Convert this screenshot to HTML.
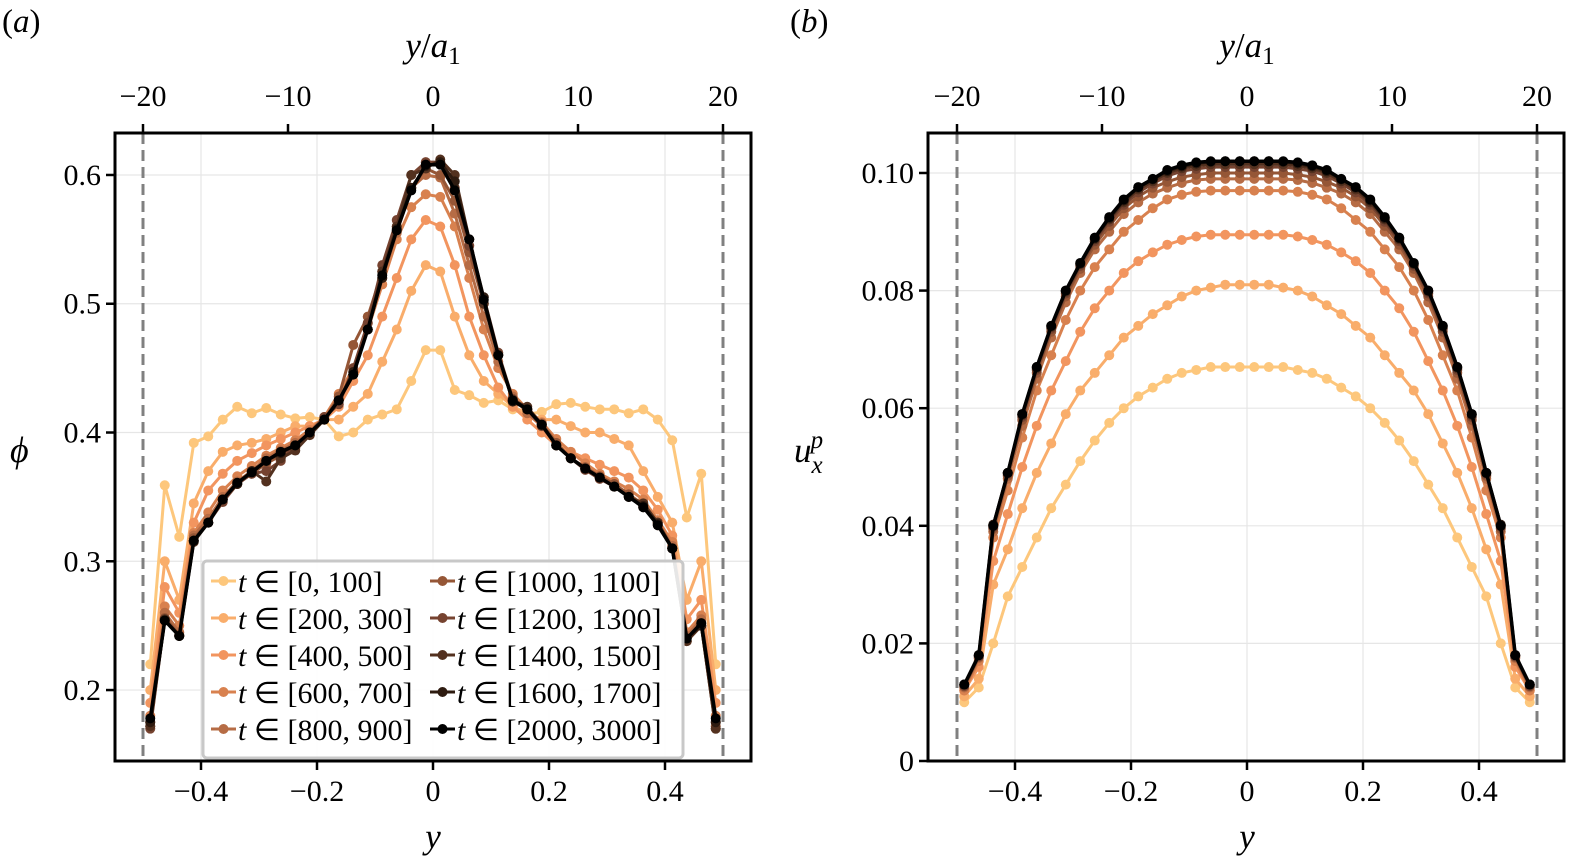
<!DOCTYPE html>
<html><head><meta charset="utf-8"><style>
body{margin:0;background:#fff}
svg{display:block;font-family:"Liberation Serif",serif}
</style></head><body>
<svg id="fig" width="1580" height="862" viewBox="0 0 1580 862"></svg>
<script>
const labels=["[0, 100]","[200, 300]","[400, 500]","[600, 700]","[800, 900]","[1000, 1100]","[1200, 1300]","[1400, 1500]","[1600, 1700]","[2000, 3000]"];
const colors=["#fdc77c","#f9ad6b","#f2955f","#d8814f","#b66c45","#955636","#764330","#53311f","#2e1b10","#000000"];
const yPos=[];for(let i=0;i<40;i++)yPos.push(-0.4875+0.025*i);
const phi0=[0.22,0.359,0.319,0.392,0.397,0.41,0.42,0.415,0.419,0.414,0.411,0.412,0.41,0.397,0.40,0.41,0.414,0.418,0.44,0.464,0.464,0.433,0.429,0.423,0.425,0.418,0.414,0.416,0.422,0.423,0.42,0.418,0.418,0.415,0.418,0.41,0.394,0.334,0.368,0.22];
const phi1=[0.20,0.30,0.27,0.345,0.37,0.385,0.39,0.392,0.395,0.40,0.405,0.405,0.41,0.41,0.42,0.43,0.455,0.48,0.51,0.53,0.525,0.49,0.46,0.44,0.43,0.42,0.415,0.41,0.41,0.405,0.40,0.40,0.395,0.39,0.37,0.35,0.33,0.27,0.30,0.20];
const phi2=[0.19,0.28,0.26,0.33,0.355,0.368,0.378,0.384,0.39,0.395,0.40,0.405,0.41,0.42,0.44,0.46,0.49,0.52,0.55,0.565,0.56,0.53,0.49,0.46,0.435,0.42,0.41,0.40,0.39,0.385,0.38,0.375,0.37,0.365,0.355,0.34,0.32,0.255,0.27,0.19];
const phi3=[0.18,0.265,0.25,0.322,0.338,0.355,0.366,0.374,0.382,0.388,0.394,0.402,0.412,0.43,0.45,0.48,0.515,0.55,0.575,0.585,0.583,0.56,0.52,0.48,0.45,0.43,0.418,0.408,0.395,0.385,0.376,0.368,0.362,0.356,0.348,0.332,0.315,0.245,0.258,0.18];
const phi4=[0.175,0.26,0.245,0.32,0.333,0.35,0.362,0.37,0.38,0.386,0.392,0.4,0.41,0.425,0.447,0.485,0.52,0.555,0.59,0.6,0.598,0.57,0.53,0.49,0.455,0.428,0.415,0.405,0.39,0.38,0.372,0.365,0.358,0.352,0.344,0.33,0.312,0.242,0.255,0.175];
const phi5=[0.172,0.256,0.243,0.318,0.33,0.348,0.36,0.368,0.376,0.382,0.388,0.398,0.41,0.428,0.468,0.49,0.525,0.56,0.59,0.605,0.6,0.58,0.54,0.5,0.46,0.425,0.418,0.407,0.392,0.38,0.373,0.366,0.36,0.352,0.343,0.328,0.31,0.238,0.25,0.172];
const phi6=[0.17,0.255,0.242,0.316,0.33,0.346,0.36,0.368,0.37,0.378,0.39,0.4,0.412,0.422,0.45,0.485,0.53,0.565,0.6,0.61,0.61,0.59,0.545,0.505,0.462,0.426,0.418,0.405,0.39,0.38,0.371,0.364,0.358,0.35,0.342,0.33,0.31,0.238,0.25,0.17];
const phi7=[0.172,0.255,0.242,0.315,0.33,0.348,0.36,0.37,0.362,0.38,0.386,0.398,0.41,0.425,0.445,0.48,0.525,0.56,0.6,0.605,0.612,0.6,0.55,0.5,0.46,0.425,0.42,0.406,0.39,0.38,0.372,0.365,0.358,0.35,0.345,0.33,0.31,0.238,0.25,0.17];
const phi8=[0.175,0.254,0.242,0.316,0.33,0.348,0.36,0.37,0.378,0.384,0.39,0.4,0.41,0.425,0.447,0.48,0.52,0.558,0.59,0.607,0.61,0.595,0.55,0.505,0.46,0.424,0.418,0.406,0.39,0.38,0.372,0.365,0.358,0.35,0.343,0.329,0.31,0.24,0.25,0.175];
const phi9=[0.178,0.254,0.242,0.316,0.330,0.348,0.361,0.369,0.378,0.385,0.390,0.400,0.41,0.425,0.445,0.48,0.522,0.557,0.588,0.608,0.608,0.588,0.55,0.503,0.46,0.425,0.418,0.406,0.39,0.38,0.372,0.365,0.358,0.35,0.342,0.328,0.31,0.24,0.252,0.178];
const ux0h=[0.010,0.0125,0.020,0.028,0.033,0.038,0.043,0.047,0.051,0.0545,0.0575,0.060,0.062,0.0635,0.065,0.066,0.0665,0.067,0.067,0.067];
const ux1h=[0.011,0.014,0.030,0.036,0.043,0.049,0.054,0.059,0.063,0.066,0.069,0.072,0.074,0.076,0.0775,0.079,0.080,0.0805,0.081,0.081];
const ux2h=[0.012,0.016,0.034,0.042,0.050,0.057,0.063,0.068,0.073,0.077,0.080,0.083,0.085,0.0865,0.0878,0.0886,0.0892,0.0895,0.0895,0.0895];
const ux3h=[0.012,0.017,0.038,0.046,0.055,0.063,0.069,0.075,0.080,0.084,0.087,0.090,0.092,0.094,0.0955,0.0963,0.0968,0.097,0.097,0.097];
const ux4h=[0.0125,0.0175,0.039,0.048,0.057,0.065,0.072,0.078,0.083,0.087,0.090,0.093,0.095,0.0965,0.0975,0.0983,0.0988,0.099,0.099,0.099];
const ux5h=[0.0127,0.0177,0.0395,0.0485,0.058,0.066,0.073,0.079,0.0837,0.0878,0.091,0.094,0.096,0.0975,0.0985,0.0993,0.0997,0.1,0.1,0.1];
const ux6h=[0.0128,0.0178,0.0398,0.0488,0.0585,0.0665,0.0735,0.0795,0.0842,0.0884,0.0917,0.0946,0.0967,0.0982,0.0995,0.1003,0.1007,0.101,0.101,0.101];
const ux7h=[0.013,0.018,0.04,0.049,0.0588,0.0668,0.0738,0.0798,0.0845,0.0887,0.0921,0.095,0.0972,0.0986,0.1,0.1008,0.1012,0.1015,0.1015,0.1015];
const ux8h=[0.013,0.018,0.0402,0.049,0.059,0.067,0.074,0.080,0.0846,0.0889,0.0923,0.0953,0.0975,0.0989,0.1003,0.1011,0.1016,0.1019,0.102,0.102];
const ux9h=[0.013,0.018,0.040,0.049,0.059,0.067,0.074,0.080,0.0847,0.089,0.0925,0.0955,0.0976,0.099,0.1005,0.1013,0.1018,0.102,0.102,0.102];
const xTicks=[-0.4,-0.2,0,0.2,0.4];
const xTickLabels=["\u22120.4","\u22120.2","0","0.2","0.4"];
const topTicks=[-20,-10,0,10,20];
const topTickLabels=["\u221220","\u221210","0","10","20"];
const phiTicks=[0.2,0.3,0.4,0.5,0.6];
const phiTickLabels=["0.2","0.3","0.4","0.5","0.6"];
const uTicks=[0,0.02,0.04,0.06,0.08,0.10];
const uTickLabels=["0","0.02","0.04","0.06","0.08","0.10"];

const phiSeries=[phi0,phi1,phi2,phi3,phi4,phi5,phi6,phi7,phi8,phi9];
const uxSeries=[ux0h,ux1h,ux2h,ux3h,ux4h,ux5h,ux6h,ux7h,ux8h,ux9h].map(h=>h.concat(h.slice().reverse()));

const NS="http://www.w3.org/2000/svg";
const svg=document.getElementById('fig');
function mk(tag,attrs,parent){const e=document.createElementNS(NS,tag);for(const k in attrs)e.setAttribute(k,attrs[k]);(parent||svg).appendChild(e);return e;}

function panel(cfg){
  const g=mk('g',{});
  
  
  const L=cfg.left,R=cfg.right,T=133,B=761;
  const xs=v=>cfg.cx+580*v;
  const ys=v=>B-(v-cfg.ymin)/(cfg.ymax-cfg.ymin)*(B-T);
  xTicks.forEach(t=>{const l=mk('line',{x1:xs(t),x2:xs(t),y1:T,y2:B,stroke:'#e6e6e6','stroke-width':1.2},g);});
  cfg.yt.forEach(t=>{const l=mk('line',{x1:L,x2:R,y1:ys(t),y2:ys(t),stroke:'#e6e6e6','stroke-width':1.2},g);});
  [-0.5,0.5].forEach(w=>{const l=mk('line',{x1:xs(w),x2:xs(w),y1:T,y2:B,stroke:'#808080','stroke-width':3,'stroke-dasharray':'11,6'},g);});
  cfg.series.forEach((s,k)=>{
    const sg=mk('g',{},g);
    
    
    const pts=s.map((v,i)=>xs(yPos[i]).toFixed(1)+','+ys(v).toFixed(1)).join(' ');
    const pl=mk('polyline',{points:pts,fill:'none',stroke:colors[k],'stroke-width':k==9?3.5:3},sg);
    
    
    s.forEach((v,i)=>{const c=mk('circle',{cx:xs(yPos[i]),cy:ys(v),r:5,fill:colors[k]},sg);
      
      });
  });
  const fr=mk('rect',{x:L,y:T,width:R-L,height:B-T,fill:'none',stroke:'#000','stroke-width':3},g);
  
  xTicks.forEach((t,i)=>{mk('line',{x1:xs(t),x2:xs(t),y1:B,y2:B+9,stroke:'#000','stroke-width':2.5},g);
    const tx=mk('text',{x:xs(t),y:B+40,'font-size':30,'text-anchor':'middle'},g);tx.textContent=xTickLabels[i];
    });
  topTicks.forEach((t,i)=>{const x=xs(t/40);mk('line',{x1:x,x2:x,y1:T,y2:T-9,stroke:'#000','stroke-width':2.5},g);
    const tx=mk('text',{x:x,y:T-27,'font-size':30,'text-anchor':'middle'},g);tx.textContent=topTickLabels[i];
    });
  cfg.yt.forEach((t,i)=>{mk('line',{x1:L,x2:L-9,y1:ys(t),y2:ys(t),stroke:'#000','stroke-width':2.5},g);
    const tx=mk('text',{x:L-14,y:ys(t)+10,'font-size':30,'text-anchor':'end'},g);tx.textContent=cfg.ytl[i];
    });
  const xl=mk('text',{x:xs(0),y:848,'font-size':35,'font-style':'italic','text-anchor':'middle'},g);xl.textContent='y';
  
  const tl=mk('text',{x:xs(0),y:57,'font-size':35,'text-anchor':'middle'},g);
  tl.innerHTML='<tspan font-style="italic">y</tspan>/<tspan font-style="italic">a</tspan><tspan font-size="25" dy="7">1</tspan>';
  
  const pl=mk('text',{x:cfg.plx,y:32,'font-size':33},g);pl.innerHTML='(<tspan font-style="italic">'+cfg.letter+'</tspan>)';
  
  return {g,xs,ys};
}

panel({name:'panel-a-phi',left:115,right:751,cx:433,ymin:0.1449,ymax:0.6326,yt:phiTicks,ytl:phiTickLabels,series:phiSeries,plx:2,letter:'a'});
const yl=mk('text',{x:10,y:462,'font-size':36,'font-style':'italic'});yl.textContent='\u03d5';


panel({name:'panel-b-velocity',left:928,right:1564,cx:1247,ymin:0,ymax:0.1068,yt:uTicks,ytl:uTickLabels,series:uxSeries,plx:790,letter:'b'});
const ul=mk('text',{x:794,y:462,'font-size':35,'font-style':'italic'});
ul.innerHTML='u<tspan font-size="25" dy="11">x</tspan><tspan font-size="25" dy="-25" dx="-12">p</tspan>';


const lg=mk('g',{});


mk('rect',{x:203,y:561,width:480,height:197,rx:4,fill:'rgba(255,255,255,0.9)',stroke:'#c8c8c8','stroke-width':3},lg);
labels.forEach((lab,k)=>{
  const col=k<5?0:1,row=k%5;
  const x0=col?430:211,y=585+row*37;
  const e=mk('g',{},lg);
  
  
  mk('line',{x1:x0,x2:x0+25,y1:y-4,y2:y-4,stroke:colors[k],'stroke-width':3},e);
  mk('circle',{cx:x0+12.5,cy:y-4,r:5,fill:colors[k]},e);
  const t=mk('text',{x:x0+27,y:y+7,'font-size':30},e);
  t.innerHTML='<tspan font-style="italic">t</tspan> \u2208 '+lab;
});
</script>
</body></html>
